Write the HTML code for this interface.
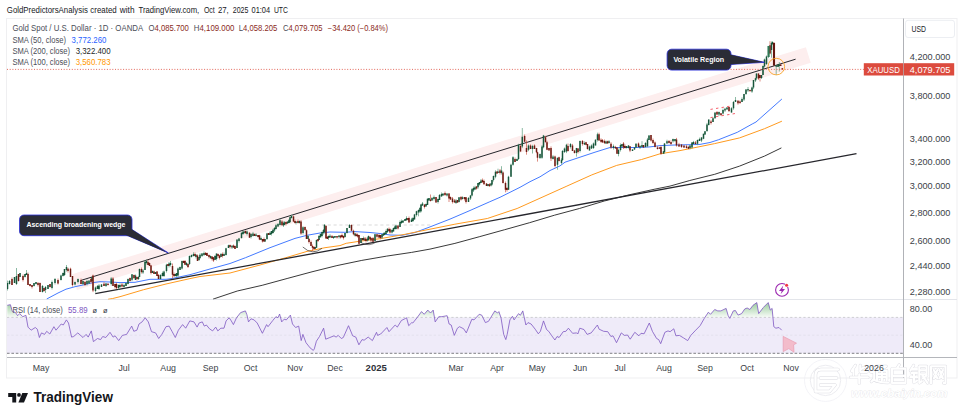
<!DOCTYPE html>
<html><head><meta charset="utf-8"><title>XAUUSD chart</title>
<style>
html,body{margin:0;padding:0;background:#fff;}
body{width:964px;height:418px;overflow:hidden;position:relative;font-family:"Liberation Sans",sans-serif;}
svg text{font-family:"Liberation Sans",sans-serif;}
</style></head><body>
<svg width="964" height="418" viewBox="0 0 964 418" style="position:absolute;left:0;top:0">
<defs>
<linearGradient id="gr" gradientUnits="userSpaceOnUse" x1="0" y1="300" x2="0" y2="317.4"><stop offset="0" stop-color="#43a047" stop-opacity="0.62"/><stop offset="1" stop-color="#43a047" stop-opacity="0.04"/></linearGradient>
<clipPath id="cp70"><rect x="7" y="299.5" width="896" height="17.9"/></clipPath>
<clipPath id="cpmain"><rect x="7" y="18.5" width="896" height="281"/></clipPath>
</defs>
<rect width="964" height="418" fill="#fff"/>
<rect x="6.5" y="18.5" width="950.5" height="359.5" fill="#fff" stroke="#efeff1" stroke-width="1"/>
<rect x="7" y="317.4" width="896" height="35.9" fill="#efebf9"/>
<path d="M7 299.5H957" stroke="#e3e5ea" stroke-width="1"/>
<path d="M7 357.5H957" stroke="#b4b6bb" stroke-width="1.2"/>
<path d="M903.5 18.5V378" stroke="#b0b2b7" stroke-width="1"/>
<g clip-path="url(#cpmain)">
<path d="M74.5 282.2L808.3 55" stroke="#fdeeee" stroke-width="16.4" fill="none"/>
<path d="M316 225H430.4" stroke="#cfcfcf" stroke-width="0.8" stroke-dasharray="3.1 2.75" fill="none"/>
<polyline points="46.7,299 58,293 66,289.2 75,286.7 85,284.6 93,282.6 100,281.7 110,282 120,282.6 135,282.3 150,279.3 166,279.3 172,278.5 190,274.7 210,269 230,263.5 245.5,257.7 270,247.7 295,238.4 307,235.3 320,233 330,232 345,232.3 355,231.6 370,232.5 380,233.5 390,235 402,235.3 415,232.5 430,226.9 450,219.1 470,210.5 489.2,202 500,197.3 510,192.3 520,187.3 530,181.7 540,176.8 550,170.5 560,165.9 565,162.2 580,157.2 595,152.2 610,147.5 625,147.5 640,147.5 650,146.9 660,145.6 675,145 690,144.7 700,144.4 710,142.5 718.7,139.7 737.3,132.3 752.2,124 756,122 781.9,99" fill="none" stroke="#2f6bff" stroke-width="0.9" stroke-linejoin="round"/>
<polyline points="108,299.3 112.7,298.5 120,296.7 143.6,289.7 166,284 190,278.6 200,276.5 230,273 260,265 287.2,257.3 307,251.4 325,247.7 340,245.6 346.2,243.3 360,241.2 380,238.7 392,236.6 405,234.3 420,231.2 430,229.2 454.9,224.2 487.3,218.5 517.1,208.5 542,197.3 566.9,186.1 591.8,174.9 616.7,165.4 641.6,159.5 660,153.8 680,150.6 700,146.6 714.7,143.6 739.6,137.9 764.5,128.7 781.9,121.2" fill="none" stroke="#ff9a1f" stroke-width="1" stroke-linejoin="round"/>
<polyline points="213,299.2 214.9,298.5 237.3,291 262.2,285.3 287.1,278.5 312,271.8 336.9,265.6 361.8,260.4 386.7,256.1 411.6,252.4 430,249.1 454.9,243.4 479.8,236.6 504.7,229.7 529.6,222.7 554.5,215.2 579.4,208.5 604.3,201 629.2,194.8 654.1,189.3 670,186.1 689.8,180.5 714.7,174.3 739.6,166.1 764.5,156.1 781.4,147.9" fill="none" stroke="#222" stroke-width="0.9" stroke-linejoin="round"/>
<path d="M81 280.4L795.6 59.2" stroke="#26262c" stroke-width="1.0" fill="none"/>
<path d="M95.3 293.6L856.5 153.7" stroke="#26262c" stroke-width="1.3" fill="none"/>
<path d="M302.8 247Q312.5 256 322 248.3" stroke="#333" stroke-width="0.7" fill="none"/>
<path d="M361 242.6Q369 247.5 377.5 241.2" stroke="#333" stroke-width="0.6" fill="none"/>
<path d="M710.5 109.4L731 106M710.5 117.6L736.5 113.3" stroke="#f23645" stroke-width="0.8" stroke-dasharray="2.4 3.2" fill="none"/>
<path d="M7.5 280.6V290.5M9.5 280V284.5M14.5 277V283M16.5 268V285M20 273V277M25 274V277.5M26.5 270V275M34 283V286.5M36 282V284.5M42.5 285V292.5M45.5 286V293M48 285V289M52 280.5V289.5M55 278V284.5M61 274.6V280.5M63 272.5V276.5M64.5 269V276M66.5 265V271.5M75 281.5V285.5M78 278.5V283.5M83 281V285M87 279.5V285.5M89 280.5V283.5M92 277V281M95.5 286.5V292.5M97.5 285V289M99 284.1V290M101.5 284V287M106 283V287M111.2 277.1V285.5M118.5 284.5V289.5M120 283.5V288M124 283.5V287.5M126 282.5V286M128 278.5V284.5M132 274.3V281.2M135.5 274.5V280M138.5 276V280M139.5 268.5V277M143 269V274M145 260.2V270M146.5 259.5V264.5M152.5 270.5V273M155.5 272V274M160.5 274.7V279.5M162.5 271.5V276.5M164 270.6V277M166.5 263.8V272.5M169 262V267.5M170.5 261V266.5M175 274V276.5M176.5 273V277M178 267.5V277M180 266.5V270M182 260.5V269.5M186.5 262V266M189.5 255.5V265M191.5 254.5V257.5M193.5 252.3V256.5M196 254.3V258.5M199 257V261M200 253.3V259M202 253V257M204 251.5V256M210.5 255.5V259M215 255V260M216.5 253.6V260.5M221 253V257M224 252.5V256M226 247.8V255.5M228.5 244.7V248M232 245.3V249M237 239.6V248M239 237.9V242.5M241.5 232.3V238.5M243 231.5V235M244 231V234M247 230.5V235.5M251 233V238.5M253 231.9V236.5M256 233.1V236.5M261 236.5V240M265 239V242M267 232.9V240M270 231.3V235M271.5 231V235.5M273 228.7V233.5M274.5 227V232M276 223.8V229.5M278 223V227M280 218.8V225.5M283.5 221.5V227M284.5 221.2V225M287.5 221.6V224M289 219V223M290 216.7V223M291.5 214.7V218.5M296 221.6V224.5M299.5 220.5V223.5M303 226.2V234.5M308 235V239M315 247V249M316.5 239.5V247.7M319 235V240M320.5 233.5V238M322 231.5V237.5M323.5 229V234.5M324.5 224.2V233.5M328.5 235.5V240M330 234.2V237.5M333.5 236.5V239M335 236V238M339 235.5V238.5M345 233V237.5M347 228V233.5M349.5 224V228M355 233V236.5M361 238V243M363.5 236.5V240.5M367.5 237V241.5M368.5 235.5V240.5M375 233.8V241M382 234.3V239M383.5 232.5V236M384.5 232V235M386 229.5V234.5M387.5 228.2V233M392 229V233.5M393.5 227.5V231.5M395 225.5V229.5M396 224.6V229.5M400 220.4V227M401.5 219.5V224M403 220.1V223M405 219V221M406.5 216.3V221M411.5 217.9V222M413 217V222M414.5 213.9V219.4M416.5 210.8V216.5M418.5 209.4V216.3M420 207V213M421 203.9V212.3M422.5 202V206M426 203.5V206.5M427.5 198.3V205M429 198V200.5M432 197V200.5M434 195.5V200.5M438 198.5V203.5M439.5 194V200M441.5 192.5V196.5M443 193.6V195.5M447 193.4V196.5M456 199V204M459 197.3V202.5M462.5 196.3V199.5M468.5 197V202M470.5 194.9V200M472 188.2V196.4M473.5 186.5V192M475 185.8V189.5M478 183V188.8M479.5 182V185.5M481 179V183M488 184V186.5M491 183V186.5M492 179.9V185.5M493.5 175.5V181.5M495.5 170.3V178.3M498 168.7V173M501.5 166.2V174.5M508.5 175.8V189.8M511 163.7V176.8M513 156.2V165.7M517 158.5V161M518.5 143.8V160M522.3 128V148.1M528.5 144.4V151.2M532.5 144.8V153.5M540 153.5V159M542 145.1V158.8M543.5 134.9V148.3M553 155.1V159.5M557.5 157.8V169.7M561.5 158.2V164.5M562.5 150V161M564.5 147.5V153M566.5 143.8V153.1M570.5 143.1V148.5M576.5 147.9V156.6M580 140.5V152.5M584.5 141.4V145M589.5 145.6V150.4M591.5 144.4V149M593.5 142.5V149M595.5 139.3V145.4M597.5 132.7V141.5M606 140.5V144M609 140.2V143.5M613.5 144.5V149.5M618.5 148.5V156.3M620.5 143.5V151.5M622 144V146.5M626.5 146V148.5M628.5 145.1V148.5M632.5 149.4V151M634.5 147.5V149.9M636 143.2V147.5M640 145V149M642 141.2V147M645.5 142.1V147.4M647.5 137.9V147.2M649 135.1V140M663.5 151.2V153.8M664.5 143V153.4M667 139.7V143.5M673 138.6V142.7M675 139V142M690 145.1V149.5M692 142V148.5M693.5 140.9V144M697.5 139.5V145.2M699.5 137.6V141M701.5 137V142.1M703.5 133.7V139.2M705 131.2V134.9M707 122.9V131.2M708.7 119.5V125.5M713 117.2V122M715 112.6V118.7M719 111.5V116M723 108.6V114.5M725 107.8V112M727 107.1V109.5M731.5 107.2V112.6M733.5 101V109.7M735.5 97V102M742 97.4V102M744 93.9V101M746 89V94.9M748 87V92M752 86.6V92.9M753.5 80.1V89.1M755.5 77.7V82M756.5 73.4V79.7M761.5 75V79M763 65.4V75M764.5 58.6V67.5M766.5 55.5V65M768.5 45.9V58.1M771.5 41.5V57.7M772.5 41.2V45M776.2 65V75M778 64.6V67M779.3 62V71.5" stroke="#5a9c7d" stroke-width="0.7" fill="none"/><path d="M12 277.5V285M18.5 274V281.5M23 274.5V281.5M28 272.5V285M30 284V286.5M32 285V288.5M38 282V286.5M40 282.5V292M44 288V291.5M50 284V287.5M58 278.5V284.5M68 267.7V272.5M70.5 267.7V277M72.5 276V286.5M81 278.5V284M85 281V286M91 278V283.5M93 274.6V292.1M104 282.2V286M108 283.2V285.5M113 277.1V286M115 283.5V288.5M116.5 282.5V289M122 283V287.5M130 277.5V281.5M134 274.5V279M137 276.5V280.5M141.5 267.5V273.5M148 259.8V265M149.5 262.5V266M151 264.9V274.4M154 270.6V274M157 271.1V276M158.5 274V279M168 264V266M172.5 263.5V278.5M174 272.5V277M183.5 260.5V263M185 260V264.8M188 263.5V268M195 252.5V256.5M197.5 254.4V261M205.5 252V255M207 252.5V256M209 254.5V258.5M212 256V260.5M213.5 257.3V261.9M218 253.5V257.5M219.5 254.9V259.5M222.5 252.5V257.5M230 244.5V248.5M233.5 244.5V248M235 245.5V249M245.5 230.5V234M249.5 232.3V237.8M254.5 233.5V236M258 235V237.5M259.5 234.8V240.1M262.5 239V242.5M264 237.5V241.5M268.5 233V235M282 220.1V225.3M286 221.5V225.5M293.5 215.6V222.1M295 219.5V223.5M298 219.5V223.5M301 220.1V234.9M305 226.5V231M306.5 229.3V239M309 238V243.5M311 240.5V246M312.5 244.5V251.4M314 246V250M318 239V242M326 225V238.6M327.5 236V239M332 235V238M337 236V238.5M340.5 235.5V238.5M342 233.5V238M343.5 235.5V239.5M351.5 224.5V231.2M353.5 229.7V235.3M356 232.8V236.5M357.5 233.5V237.5M359 235V244.7M362.5 238V240.5M365 237V240.5M366 237.5V242.5M370 236V239.5M371 237.5V242M373 237V241.8M377 234.3V237.8M379 233.5V238M380.5 235V239.3M389 227.5V231M390 228.3V233.5M398 225.6V229.5M408 218V220.5M409 216.5V222.5M424.5 204.4V208.5M430.5 194.5V201.5M436 197V202.6M445 191.5V196M449 193.1V202M450.5 196.5V200M452.5 197V203.5M454.5 199V202.5M457.5 200V203M461 196V200.5M464.5 197V200.5M466 197.3V203.5M476.5 186V189.5M482.5 178.5V183M484 179.5V184.7M486.5 183.1V185.9M489.5 183.2V187M497 171.5V174M500 169V174.5M503 171.4V183.5M505.5 181.5V192.3M507 187V191.5M515 157.5V162M520.5 145V151.6M524.6 134.5V141.7M526.5 140.4V154.7M530.5 144.4V149M534.5 144.4V149M536.5 147.9V153.2M537.5 151.7V161.6M545.5 135.8V142.3M547 140.8V150.2M549 147.9V150.4M551 146.4V161M555 155.6V167.4M559 156.7V161.5M568 143.5V151.5M572.5 143.9V151M574.5 149.9V153.5M578 148V153.5M582.5 140V145.6M586 141.8V145.3M587.5 144.1V149.6M599 132.7V140.9M601 138.3V142.7M602.5 139V142.5M604.5 139.5V144M607.5 140.7V143.5M611 142.2V149M615.5 145.9V148.5M617 147V153.8M623.5 142V149M625 144.5V148.5M630 146.2V152.1M638.5 142.5V147.4M643.5 145V147.5M651 135V141.6M653 138.5V144.1M655 141.5V147.4M657.5 146V149.5M659.5 147V148.7M661 145.4V154.8M669 140V143.5M671 140.4V145M676.5 137.9V146.6M679 142.9V147M681.5 144.4V147.9M684 145.6V148M686.5 144.7V148.5M688.5 145.9V149.2M695.5 141V144.5M711 119.9V124.5M717 111V115M721 113.2V116M729 107V111.3M738 100.2V104.7M740 100.4V104M750 89.5V92M758.5 73.4V79.9M760 75V81.5M770 41.2V54.4M774 42V65.2M780.7 64.1V65.9M782.3 68V70" stroke="#cf5a4a" stroke-width="0.7" fill="none"/><path d="M7.5 283V289M9.5 281V284M14.5 277V283M16.5 276V284M20 273V277M25 274V277M26.5 273V275M34 283V286M36 282V284M42.5 286V292M45.5 287V290M48 285V289M52 282V288M55 279V283M61 275.6V280M63 273V276M64.5 269V275M66.5 267V270M75 282V284.5M78 279V282M83 281V284M87 281V284M89 280.5V283.5M92 277V281M95.5 287.5V291M97.5 286V289M99 285.6V289M101.5 284.5V287M106 283.5V286M111.2 278.6V284M118.5 285V288M120 285V287M124 285V287M126 283V286M128 279V284M132 274.3V279.7M135.5 275.5V280M138.5 277V279M139.5 269V277M143 270.5V272.5M145 261.7V270M146.5 261V263M152.5 271V273M155.5 272V274M160.5 274.7V279M162.5 273V276M164 271.6V276M166.5 264.8V271M169 263.5V266M170.5 263V265M175 274V276M176.5 273V276M178 268.5V275.5M180 267V270M182 261V268.5M186.5 263V265M189.5 256V264M191.5 255V257M193.5 254V256M196 254.8V257M199 257V260M200 254.8V258M202 253.5V256M204 253V255M210.5 256V258M215 256V260M216.5 253.6V259M221 254V257M224 254V256M226 248.3V255M228.5 245.2V248M232 245.8V247.5M237 239.6V248M239 238.4V241M241.5 232.8V238M243 231.5V234M244 231.5V233M247 231.5V234M251 234V237M253 233.4V236M256 234.6V236M261 238V240M265 239V241.5M267 233.4V239M270 232.8V235M271.5 231V234M273 229.7V233M274.5 228V230.5M276 225.3V229M278 224V226.5M280 220.3V225M283.5 223V225.5M284.5 222.2V225M287.5 221.6V223.5M289 220V223M290 217.2V222M291.5 216V218M296 221.6V223M299.5 221V223M303 227.2V233M308 236V239M315 247V249M316.5 240V247.7M319 236V240M320.5 234V237M322 232V236M323.5 230V233M324.5 224.7V232M328.5 236V238M330 235.7V237.5M333.5 236.5V238M335 236V237.5M339 235.5V237M345 233V237M347 228V233M349.5 225V228M355 233.5V235.5M361 238V243M363.5 238V240M367.5 238.5V240.5M368.5 236V240M375 234.3V241M382 234.3V237.5M383.5 233.5V235.5M384.5 233V235M386 231V234M387.5 228.7V232M392 230V232.5M393.5 228V231.5M395 226.5V229M396 225.6V229M400 221.9V227M401.5 221V223M403 220.6V222.5M405 219V221M406.5 218V220M411.5 219.4V222M413 218V221M414.5 214.4V219.4M416.5 211.3V215M418.5 210V212.5M420 208V211.5M421 204.4V211.3M422.5 203.5V205.5M426 204V206.5M427.5 198.8V205M429 198V200.5M432 198V200.5M434 197V199M438 199V202M439.5 195V200M441.5 194V196.5M443 193.6V195.5M447 193.4V195.5M456 200.5V203M459 197.3V202M462.5 197.3V199M468.5 198V202M470.5 195.4V198.5M472 189.2V195.4M473.5 188V190.5M475 187.3V189.5M478 183V187.3M479.5 182V184.5M481 180.5V183M488 184V186M491 183.5V185.5M492 179.9V184.5M493.5 176V180M495.5 171.8V176.8M498 171.5V173M501.5 170.5V173M508.5 176.8V189.8M511 164.7V176.8M513 157.2V164.7M517 159V161M518.5 144.8V159M522.3 136.7V146.6M528.5 145.4V149.7M532.5 146V149M540 154V158M542 146.6V157.8M543.5 135.4V147.3M553 156.6V159M557.5 157.8V164.7M561.5 159.7V163M562.5 151V160M564.5 148.5V152M566.5 144.8V151.6M570.5 144.1V147M576.5 147.9V152.9M580 141V151M584.5 142.9V144.5M589.5 146.6V150.4M591.5 145.4V148.5M593.5 143.5V148M595.5 139.8V145.4M597.5 134.2V140M606 141.5V143.5M609 141.2V143M613.5 146V148M618.5 150V154M620.5 145V150M622 144V146.5M626.5 146V148M628.5 145.6V148M632.5 149.4V151M634.5 147.5V149.4M636 143.7V147.5M640 146V147.5M642 145V147M645.5 143.1V146.9M647.5 139.4V146.2M649 135.6V140M663.5 151.2V153.8M664.5 143.5V151.9M667 141.2V143.5M673 139.1V141.2M675 139V141M690 145.6V148M692 142.5V147.5M693.5 141.9V144M697.5 140V143.7M699.5 139.1V141M701.5 137.5V140.6M703.5 133.7V138.7M705 131.2V134.4M707 124.4V131.2M708.7 119.5V125M713 118.2V122M715 112.6V118.2M719 112V114.5M723 110.1V113.5M725 108.8V110.5M727 107.6V109.5M731.5 108.2V112.6M733.5 102V108.2M735.5 100V102M742 98.9V102M744 93.9V99.5M746 89.5V93.9M748 89V90.5M752 87.6V91.4M753.5 80.1V87.6M755.5 78.2V80.5M756.5 73.4V78.2M761.5 75V78M763 65.9V75M764.5 59.6V66.5M766.5 56.5V64M768.5 45.9V57.1M771.5 43V50M772.5 42V44M776.2 65.2V66.7M778 64.6V67M779.3 64.5V66" stroke="#17553a" stroke-width="1.5" fill="none"/><path d="M12 279V285M18.5 274V281M23 276V280M28 274V285M30 284V286M32 285V287M38 283V285M40 283V292M44 288V291M50 284V287M58 280V283.5M68 268.7V271M70.5 268.7V277M72.5 276V285M81 280V284M85 282V285M91 279V282M93 275.6V290.6M104 283.7V286M108 283.7V285M113 278.6V286M115 284V287M116.5 284V288M122 284.5V286.5M130 278V281M134 275V278M137 277V279M141.5 269V272M148 262V265M149.5 263V266M151 265.4V272.9M154 271.6V274M157 271.6V276M158.5 275V279M168 264V266M172.5 266V274.7M174 274V276M183.5 261V263M185 261V264.8M188 264V267M195 254V256M197.5 255.4V261M205.5 253V255M207 253V256M209 255V257M212 256.5V259M213.5 257.3V260.4M218 254V256M219.5 255.4V258M222.5 254V256M230 245V247M233.5 245.5V247.5M235 246V249M245.5 231V233M249.5 232.8V237.8M254.5 234V236M258 235V237M259.5 235.3V239.6M262.5 239V241.5M264 239V241.5M268.5 233V235M282 221.6V225.3M286 222V224M293.5 216.6V221.6M295 221V223M298 221V223M301 221.6V233.4M305 227V230M306.5 230.3V239M309 239V242M311 242V246M312.5 246V247.7M314 247V249M318 239V241M326 226V238.6M327.5 237V239M332 236V238M337 236V237.5M340.5 235.5V237.5M342 235V237M343.5 236V238M351.5 225V230.7M353.5 230.7V234.3M356 234.3V236M357.5 234.5V236.5M359 235V243.7M362.5 238V240M365 238.5V240.5M366 239V241M370 237V239M371 238V240.5M373 238V241.8M377 234.3V236.8M379 235V237.5M380.5 235V238M389 229V231M390 229.3V232.5M398 225.6V228.5M408 218V220M409 218V222.5M424.5 204.4V207M430.5 199.5V201M436 197V202.6M445 193V195M449 193.6V198.5M450.5 197V199.5M452.5 198.5V202M454.5 200.5V202.5M457.5 200V202.5M461 197V199.5M464.5 197V199M466 197.3V202M476.5 186.5V188.5M482.5 180V182M484 181V184.2M486.5 183.6V185.9M489.5 184.2V186M497 171.5V173.5M500 170.5V173M503 172.4V183M505.5 183V189.8M507 188V190M515 159V162M520.5 146V151.6M524.6 136V141.7M526.5 148V152M530.5 145.4V149M534.5 145.4V149M536.5 147.9V152.2M537.5 152.2V157.8M545.5 137.3V142.3M547 142.3V149.7M549 147.9V150.4M551 147.9V158.5M555 156.6V165.9M559 157.2V161M568 146V151M572.5 145.4V151M574.5 150.4V153M578 148.5V152M582.5 141V144.1M586 142.3V144.8M587.5 144.1V149.1M599 134.2V140.4M601 139.8V141.7M602.5 140V142.5M604.5 141V143M607.5 141.2V143.5M611 143.7V147.5M615.5 146.9V148.5M617 147.5V153.8M623.5 143.5V147.5M625 146V148M630 146.2V150.6M638.5 143.5V146.9M643.5 145V147.5M651 135V140.6M653 140V143.1M655 142.5V146.9M657.5 147.5V149M659.5 147.5V148.7M661 146.9V153.8M669 141V143M671 141.9V144M676.5 139.4V145.6M679 144.4V146.5M681.5 144.4V146.9M684 145.6V147.5M686.5 146.2V148M688.5 146.9V148.7M695.5 142.5V144M711 121.4V123M717 112V114.5M721 113.2V115M729 107V111.3M738 100.7V103.2M740 101.4V103M750 90V91M758.5 73.4V78.4M760 75V78M770 45.2V53.4M774 43V65.2M780.7 64.6V65.9M782.3 68.2V69.6" stroke="#6d1a12" stroke-width="1.5" fill="none"/>
<path d="M774 43V65.4" stroke="#651710" stroke-width="2.1" fill="none"/><path d="M768.6 46V57" stroke="#2f7a56" stroke-width="1.9" fill="none"/>
</g>
<path d="M7 69.4H864" stroke="#e0584a" stroke-width="0.9" stroke-dasharray="1 1.7" fill="none"/>
<circle cx="776.3" cy="66.6" r="8.3" fill="none" stroke="#f7a52b" stroke-width="0.9"/>
<g><path d="M125.5 234.8L168.3 252.9L131.2 229Z" fill="#2a2c36" stroke="#2a2fd8" stroke-width="0.8" stroke-linejoin="round"/><rect x="19.5" y="215" width="112.5" height="20.7" rx="4.5" fill="#2a2c36" stroke="#2a2fd8" stroke-width="0.8"/><path d="M125.5 234.8L166.8 252.6L131.2 229Z" fill="#2a2c36"/><text x="26.4" y="227.2" font-size="7.6" font-weight="bold" fill="#fff" textLength="99" lengthAdjust="spacingAndGlyphs">Ascending broadening wedge</text></g>
<g><path d="M729.5 54.5L764.4 62.3L729.5 64.6Z" fill="#2a2c36" stroke="#2a2fd8" stroke-width="0.8" stroke-linejoin="round"/><rect x="667.1" y="49.2" width="63.9" height="20.9" rx="4.5" fill="#2a2c36" stroke="#2a2fd8" stroke-width="0.8"/><path d="M729.5 54.5L762.9 62L729.5 64.6Z" fill="#2a2c36"/><text x="673.4" y="62.1" font-size="7.6" font-weight="bold" fill="#fff" textLength="50.8" lengthAdjust="spacingAndGlyphs">Volatile Region</text></g>
<path d="M7 317.4H903" stroke="#c4c4c8" stroke-width="0.8" stroke-dasharray="2.2 2.2" fill="none"/>
<path d="M7 335.2H903" stroke="#e0dde8" stroke-width="0.7" stroke-dasharray="2.2 2.2" fill="none"/>
<path d="M7 353.3H903" stroke="#4a4c52" stroke-width="0.7" stroke-dasharray="2.6 1.8" fill="none"/>
<polygon points="7.3,317.4 7.3,305.3 10.4,304.7 12.4,311.6 15.6,312.6 17.6,315.7 19.7,313.6 22.8,316.7 25.9,315.3 28,327.1 31.1,330.2 35.3,327.5 37.3,329.2 39.4,337.5 41.5,332.9 44.6,334.4 46.7,331.3 49.8,334 53.9,326.7 56,330.2 61.2,324 63.3,325 66.4,319.9 68.5,323 71.6,337.1 73.7,336.5 77.8,332.9 83,337.5 86.1,334.4 88.2,337.1 91.3,330.9 93.4,341.6 97.5,338.5 100.6,339.6 102.7,336.5 105.8,337.5 110,332.3 113.1,337.1 115.1,335.8 118.7,340.6 122.4,335.4 126.6,334.4 131.7,326.1 133.8,331.3 136.9,330.2 139,324 142.1,321.9 145.2,317.8 148.3,321.9 151.5,331.7 155.6,332.9 158.7,338.5 161.8,334.4 166,326.7 169.1,326.1 172.2,331.7 175.3,337.5 178.4,330.2 182.6,324.6 185.7,328.2 189.8,320.9 194,321.9 197.1,327.1 199.1,323 202.3,321.9 204.3,326.1 206.4,325 209.5,328.8 212.6,330.9 215.7,327.1 217.8,330.9 220.9,328.2 224,328.2 226.1,320.9 229.2,317.8 231.3,320.9 233.4,324.6 236.5,317.8 240.6,312.6 245.4,310.9 246.9,314.7 248.5,321.9 251,318.8 254.1,319.9 257.2,323 262.4,333.3 266.6,324.6 268,326.7 272.8,320.5 275.9,316.7 278,317.8 279.6,314 281.7,321.9 284.2,319.2 286.3,319.9 290.4,315.1 292.5,324 295.6,327.5 298.7,326.1 301.2,340.6 302.9,334.4 306,342.7 310.1,347.9 313.3,350.4 314.3,348.9 316.4,341.2 319.5,336.5 323.6,328.2 325.7,339.2 329.9,337.5 334,335.8 336.1,337.1 338.2,335.4 341.3,338.5 343.3,337.5 348.5,325.7 352.7,335.8 355.8,337.1 358.9,344.8 362,339.6 364.1,340.2 368.2,337.1 372.4,340.6 376.5,332.3 377.6,335.4 380.7,334 386.9,327.5 389,331.7 395.2,325 397.3,327.1 401.4,320.5 405.6,318.4 406.6,317.8 408.7,325.7 411.8,322.6 412.8,323 417,317.8 421.5,311.6 424.2,314.3 427.8,310.1 430.5,313 433.2,310.1 435.2,321.9 438.8,316.7 441.9,316.7 447.1,315.7 449.1,324 451.2,325 454.3,335.4 457.4,328.2 459.5,326.7 463.7,328.8 466.3,332.9 471.9,319.2 474,319.9 479.2,314.3 481.7,315.1 485.4,322.6 488.5,321.3 494.8,310.9 497.5,313 498.9,311.6 501,317.8 503.7,334.4 505.8,339.6 507.2,334.4 509.9,319.9 512.4,316.3 514.1,319.9 518.6,313.6 520.3,315.3 522.8,310.9 525.9,325 528,322.6 531.1,324 535.2,329.2 538.3,333.8 540.4,331.3 543.5,320.9 546.6,329.6 548.7,331.3 551.8,335.8 554.9,340 557,336.5 559.1,337.5 563.2,331.7 565.9,331.3 568.4,328.2 572.6,333.3 576.7,332.9 577.8,334 579.8,328.2 584,329.6 587.1,334.4 591.2,332.9 597.4,325 599.1,329.2 603.7,331.3 607.8,331.7 610.9,336.5 613,335.8 616.5,342.7 621.3,332.9 624.4,335.4 627.5,335 630.2,339.2 634.8,332.3 638.9,335.8 641,333.3 644.1,333.8 649.3,323 652.4,331.3 656.6,338.5 658.7,339.6 660.7,343.7 664.9,332.3 668,330.9 670.1,331.7 673.8,328.8 675.9,335.8 679.4,335.4 683.5,337.9 687.7,340.6 690.8,335.4 695,330.9 700.1,325.7 704.3,318.4 708.4,312.2 710.5,314.3 714.7,309.5 717.8,310.9 720.9,310.9 726.1,308.4 728.2,315.7 729.8,318.4 733.3,310.9 735.4,310.5 738.1,315.1 741.6,313.6 744.8,308.9 747.2,308 749.9,309.5 753,305.3 756.8,302.6 758.7,313.6 763.4,307.4 768.2,302.6 770.3,310.1 772.1,308.4 773.8,326.7 775.9,328.2 779,327.5 781.7,330.2 781.7,317.4" fill="url(#gr)" clip-path="url(#cp70)"/>
<polyline points="7.3,305.3 10.4,304.7 12.4,311.6 15.6,312.6 17.6,315.7 19.7,313.6 22.8,316.7 25.9,315.3 28,327.1 31.1,330.2 35.3,327.5 37.3,329.2 39.4,337.5 41.5,332.9 44.6,334.4 46.7,331.3 49.8,334 53.9,326.7 56,330.2 61.2,324 63.3,325 66.4,319.9 68.5,323 71.6,337.1 73.7,336.5 77.8,332.9 83,337.5 86.1,334.4 88.2,337.1 91.3,330.9 93.4,341.6 97.5,338.5 100.6,339.6 102.7,336.5 105.8,337.5 110,332.3 113.1,337.1 115.1,335.8 118.7,340.6 122.4,335.4 126.6,334.4 131.7,326.1 133.8,331.3 136.9,330.2 139,324 142.1,321.9 145.2,317.8 148.3,321.9 151.5,331.7 155.6,332.9 158.7,338.5 161.8,334.4 166,326.7 169.1,326.1 172.2,331.7 175.3,337.5 178.4,330.2 182.6,324.6 185.7,328.2 189.8,320.9 194,321.9 197.1,327.1 199.1,323 202.3,321.9 204.3,326.1 206.4,325 209.5,328.8 212.6,330.9 215.7,327.1 217.8,330.9 220.9,328.2 224,328.2 226.1,320.9 229.2,317.8 231.3,320.9 233.4,324.6 236.5,317.8 240.6,312.6 245.4,310.9 246.9,314.7 248.5,321.9 251,318.8 254.1,319.9 257.2,323 262.4,333.3 266.6,324.6 268,326.7 272.8,320.5 275.9,316.7 278,317.8 279.6,314 281.7,321.9 284.2,319.2 286.3,319.9 290.4,315.1 292.5,324 295.6,327.5 298.7,326.1 301.2,340.6 302.9,334.4 306,342.7 310.1,347.9 313.3,350.4 314.3,348.9 316.4,341.2 319.5,336.5 323.6,328.2 325.7,339.2 329.9,337.5 334,335.8 336.1,337.1 338.2,335.4 341.3,338.5 343.3,337.5 348.5,325.7 352.7,335.8 355.8,337.1 358.9,344.8 362,339.6 364.1,340.2 368.2,337.1 372.4,340.6 376.5,332.3 377.6,335.4 380.7,334 386.9,327.5 389,331.7 395.2,325 397.3,327.1 401.4,320.5 405.6,318.4 406.6,317.8 408.7,325.7 411.8,322.6 412.8,323 417,317.8 421.5,311.6 424.2,314.3 427.8,310.1 430.5,313 433.2,310.1 435.2,321.9 438.8,316.7 441.9,316.7 447.1,315.7 449.1,324 451.2,325 454.3,335.4 457.4,328.2 459.5,326.7 463.7,328.8 466.3,332.9 471.9,319.2 474,319.9 479.2,314.3 481.7,315.1 485.4,322.6 488.5,321.3 494.8,310.9 497.5,313 498.9,311.6 501,317.8 503.7,334.4 505.8,339.6 507.2,334.4 509.9,319.9 512.4,316.3 514.1,319.9 518.6,313.6 520.3,315.3 522.8,310.9 525.9,325 528,322.6 531.1,324 535.2,329.2 538.3,333.8 540.4,331.3 543.5,320.9 546.6,329.6 548.7,331.3 551.8,335.8 554.9,340 557,336.5 559.1,337.5 563.2,331.7 565.9,331.3 568.4,328.2 572.6,333.3 576.7,332.9 577.8,334 579.8,328.2 584,329.6 587.1,334.4 591.2,332.9 597.4,325 599.1,329.2 603.7,331.3 607.8,331.7 610.9,336.5 613,335.8 616.5,342.7 621.3,332.9 624.4,335.4 627.5,335 630.2,339.2 634.8,332.3 638.9,335.8 641,333.3 644.1,333.8 649.3,323 652.4,331.3 656.6,338.5 658.7,339.6 660.7,343.7 664.9,332.3 668,330.9 670.1,331.7 673.8,328.8 675.9,335.8 679.4,335.4 683.5,337.9 687.7,340.6 690.8,335.4 695,330.9 700.1,325.7 704.3,318.4 708.4,312.2 710.5,314.3 714.7,309.5 717.8,310.9 720.9,310.9 726.1,308.4 728.2,315.7 729.8,318.4 733.3,310.9 735.4,310.5 738.1,315.1 741.6,313.6 744.8,308.9 747.2,308 749.9,309.5 753,305.3 756.8,302.6 758.7,313.6 763.4,307.4 768.2,302.6 770.3,310.1 772.1,308.4 773.8,326.7 775.9,328.2 779,327.5 781.7,330.2" fill="none" stroke="#7e57c2" stroke-width="0.8" stroke-linejoin="round"/>
<path d="M783.2 336.4L796.5 343.2L793.6 344.8L794 352.3L788.8 348.6L783.2 351.6Z" fill="#f3bccb" stroke="#ea9bb0" stroke-width="0.7" stroke-linejoin="round"/>
<circle cx="782" cy="289.9" r="6.4" fill="#fff" stroke="#9c27b0" stroke-width="1.1"/>
<path d="M783.3 285.6L779 290.9H781.7L780.6 294.3L785 288.9H782.3Z" fill="#9c27b0"/>
<circle cx="786.6" cy="285.3" r="2" fill="#fff"/><circle cx="786.6" cy="285.3" r="1.55" fill="#f23645"/>
<circle cx="825.5" cy="380.4" r="21" fill="none" stroke="#eeeef4" stroke-width="0.7"/><circle cx="825.5" cy="380.4" r="15.2" fill="none" stroke="#e4e4ea" stroke-width="0.7"/><g  fill="none" stroke-linecap="round" stroke-linejoin="round"><path d="M838 369.5H821Q815.5 369.5 815.5 375V391.5H829.5L835 385H820.5M820.5 378H836.5" stroke="#dcdce2" stroke-width="3.4"/><path d="M838 369.5H821Q815.5 369.5 815.5 375V391.5H829.5L835 385H820.5M820.5 378H836.5" stroke="#fff" stroke-width="2.4"/></g><g transform="translate(849.60 364.30) scale(0.965)" fill="none" stroke-linecap="round" stroke-linejoin="round"><path d="M6 1L2 7M4 5V11M11 1V8H18V6M17 2L11 5.5M1 13.5H19M10 10.5V20" stroke="#dcdce2" stroke-width="3.1"/><path d="M6 1L2 7M4 5V11M11 1V8H18V6M17 2L11 5.5M1 13.5H19M10 10.5V20" stroke="#fff" stroke-width="2.2"/></g><g transform="translate(869.35 364.30) scale(0.965)" fill="none" stroke-linecap="round" stroke-linejoin="round"><path d="M3 2L4.5 3.5M1.5 8H5V15L2 18M4.5 16Q9 19 19.5 19M8 2H17.5L13 5M8 6.5V16.5M8 6.5H18V16.5M8 10H18M8 13.3H18M13 6.5V16.5" stroke="#dcdce2" stroke-width="3.1"/><path d="M3 2L4.5 3.5M1.5 8H5V15L2 18M4.5 16Q9 19 19.5 19M8 2H17.5L13 5M8 6.5V16.5M8 6.5H18V16.5M8 10H18M8 13.3H18M13 6.5V16.5" stroke="#fff" stroke-width="2.2"/></g><g transform="translate(889.10 364.30) scale(0.965)" fill="none" stroke-linecap="round" stroke-linejoin="round"><path d="M10.5 0.5L8 4.5M3 4.5H17V19.5H3ZM3 12H17" stroke="#dcdce2" stroke-width="3.1"/><path d="M10.5 0.5L8 4.5M3 4.5H17V19.5H3ZM3 12H17" stroke="#fff" stroke-width="2.2"/></g><g transform="translate(908.85 364.30) scale(0.965)" fill="none" stroke-linecap="round" stroke-linejoin="round"><path d="M5 1L1.5 6.5M3.5 5H8.5M2.5 9H8.5M5.3 9V19L8.5 16.8M1.5 13.3H8.5M10.8 2V19.5L13.5 17.5M10.8 2H18.3V10.3H10.8M10.8 6.2H18.3M18.5 11.5L14.5 14.5M13.5 10.5L19.5 19.5" stroke="#dcdce2" stroke-width="3.1"/><path d="M5 1L1.5 6.5M3.5 5H8.5M2.5 9H8.5M5.3 9V19L8.5 16.8M1.5 13.3H8.5M10.8 2V19.5L13.5 17.5M10.8 2H18.3V10.3H10.8M10.8 6.2H18.3M18.5 11.5L14.5 14.5M13.5 10.5L19.5 19.5" stroke="#fff" stroke-width="2.2"/></g><g transform="translate(928.60 364.30) scale(0.965)" fill="none" stroke-linecap="round" stroke-linejoin="round"><path d="M2.5 20V2H17.5V19Q17.5 20 15.5 19.5M5.5 6L9 14.5M9 6L5.5 14.5M11.3 6L14.8 14.5M14.8 6L11.3 14.5" stroke="#dcdce2" stroke-width="3.1"/><path d="M2.5 20V2H17.5V19Q17.5 20 15.5 19.5M5.5 6L9 14.5M9 6L5.5 14.5M11.3 6L14.8 14.5M14.8 6L11.3 14.5" stroke="#fff" stroke-width="2.2"/></g><text x="851" y="397" font-size="11.6" font-weight="bold" font-style="italic" fill="#fff" stroke="#dcdce2" stroke-width="0.55" textLength="96.5" lengthAdjust="spacingAndGlyphs" paint-order="stroke">www.cbaiyin.com</text>
<text x="6.8" y="12.6" font-size="8.2" fill="#16181d" textLength="81" lengthAdjust="spacingAndGlyphs">GoldPredictorsAnalysis</text>
<text x="90.3" y="12.6" font-size="8.2" fill="#16181d" textLength="26.4" lengthAdjust="spacingAndGlyphs">created</text>
<text x="119.8" y="12.6" font-size="8.2" fill="#16181d" textLength="14.7" lengthAdjust="spacingAndGlyphs">with</text>
<text x="138.5" y="12.6" font-size="8.2" fill="#16181d" textLength="60.7" lengthAdjust="spacingAndGlyphs">TradingView.com,</text>
<text x="203.9" y="12.6" font-size="8.2" fill="#16181d" textLength="10.9" lengthAdjust="spacingAndGlyphs">Oct</text>
<text x="217.9" y="12.6" font-size="8.2" fill="#16181d" textLength="10.9" lengthAdjust="spacingAndGlyphs">27,</text>
<text x="232.8" y="12.6" font-size="8.2" fill="#16181d" textLength="15.6" lengthAdjust="spacingAndGlyphs">2025</text>
<text x="251.5" y="12.6" font-size="8.2" fill="#16181d" textLength="18.6" lengthAdjust="spacingAndGlyphs">01:04</text>
<text x="273.9" y="12.6" font-size="8.2" fill="#16181d" textLength="14" lengthAdjust="spacingAndGlyphs">UTC</text>
<text x="12.4" y="31.4" font-size="8.3" fill="#4a4d57" textLength="130.8" lengthAdjust="spacingAndGlyphs">Gold Spot / U.S. Dollar · 1D · OANDA</text>
<text x="148.5" y="31.4" font-size="8.3" fill="#4a4d57" textLength="40.3" lengthAdjust="spacingAndGlyphs">O<tspan fill="#8a2a22">4,085.700</tspan></text>
<text x="193.8" y="31.4" font-size="8.3" fill="#4a4d57" textLength="40.6" lengthAdjust="spacingAndGlyphs">H<tspan fill="#8a2a22">4,109.000</tspan></text>
<text x="238.8" y="31.4" font-size="8.3" fill="#4a4d57" textLength="38.4" lengthAdjust="spacingAndGlyphs">L<tspan fill="#8a2a22">4,058.205</tspan></text>
<text x="283" y="31.4" font-size="8.3" fill="#4a4d57" textLength="39.4" lengthAdjust="spacingAndGlyphs">C<tspan fill="#8a2a22">4,079.705</tspan></text>
<text x="327.8" y="31.4" font-size="8.3" fill="#8a2a22" textLength="60.2" lengthAdjust="spacingAndGlyphs">−34.420 (−0.84%)</text>
<text x="12.4" y="42.7" font-size="8.3" fill="#4a4d57" textLength="53.6" lengthAdjust="spacingAndGlyphs">SMA (50, close)</text>
<text x="71.6" y="42.7" font-size="8.3" fill="#2962ff" textLength="34.8" lengthAdjust="spacingAndGlyphs">3,772.260</text>
<text x="12.4" y="53.7" font-size="8.3" fill="#4a4d57" textLength="57.7" lengthAdjust="spacingAndGlyphs">SMA (200, close)</text>
<text x="75.7" y="53.7" font-size="8.3" fill="#1d1f26" textLength="34.9" lengthAdjust="spacingAndGlyphs">3,322.400</text>
<text x="12.4" y="64.8" font-size="8.3" fill="#4a4d57" textLength="57.7" lengthAdjust="spacingAndGlyphs">SMA (100, close)</text>
<text x="75.7" y="64.8" font-size="8.3" fill="#ff9800" textLength="34.9" lengthAdjust="spacingAndGlyphs">3,560.783</text>
<text x="12.4" y="313.2" font-size="8.3" fill="#4a4d57" textLength="50.5" lengthAdjust="spacingAndGlyphs">RSI (14, close)</text>
<text x="68" y="313.2" font-size="8.3" fill="#7e57c2" textLength="19.6" lengthAdjust="spacingAndGlyphs">55.89</text>
<text x="92.6" y="313.2" font-size="7.4" fill="#33363f">ø</text>
<text x="103" y="313.2" font-size="7.4" fill="#33363f">ø</text>
<text x="909.8" y="60" font-size="9.1" fill="#3c3f48" textLength="40.6" lengthAdjust="spacingAndGlyphs">4,200.000</text>
<text x="909.8" y="98.5" font-size="9.1" fill="#3c3f48" textLength="40.6" lengthAdjust="spacingAndGlyphs">3,800.000</text>
<text x="909.8" y="141.6" font-size="9.1" fill="#3c3f48" textLength="40.6" lengthAdjust="spacingAndGlyphs">3,400.000</text>
<text x="909.8" y="164.7" font-size="9.1" fill="#3c3f48" textLength="40.6" lengthAdjust="spacingAndGlyphs">3,200.000</text>
<text x="909.8" y="189.3" font-size="9.1" fill="#3c3f48" textLength="40.6" lengthAdjust="spacingAndGlyphs">3,000.000</text>
<text x="909.8" y="216.3" font-size="9.1" fill="#3c3f48" textLength="40.6" lengthAdjust="spacingAndGlyphs">2,800.000</text>
<text x="909.8" y="244.3" font-size="9.1" fill="#3c3f48" textLength="40.6" lengthAdjust="spacingAndGlyphs">2,600.000</text>
<text x="909.8" y="269.3" font-size="9.1" fill="#3c3f48" textLength="40.6" lengthAdjust="spacingAndGlyphs">2,440.000</text>
<text x="909.8" y="295.2" font-size="9.1" fill="#3c3f48" textLength="40.6" lengthAdjust="spacingAndGlyphs">2,280.000</text>
<text x="909.8" y="312.3" font-size="9.1" fill="#3c3f48" textLength="22.6" lengthAdjust="spacingAndGlyphs">80.00</text>
<text x="909.8" y="347.7" font-size="9.1" fill="#3c3f48" textLength="22.6" lengthAdjust="spacingAndGlyphs">40.00</text>
<rect x="905.5" y="20.3" width="49" height="17.2" rx="2.5" fill="#fff" stroke="#eceef2" stroke-width="1"/>
<text x="911.5" y="32.2" font-size="8.6" fill="#22252c" textLength="14.5" lengthAdjust="spacingAndGlyphs">USD</text>
<rect x="863.8" y="63.2" width="39.4" height="12.3" fill="#dc4b3e"/>
<rect x="903.9" y="63.2" width="50.3" height="12.3" fill="#dc4b3e"/>
<text x="867.3" y="72.8" font-size="9.2" fill="#fff" textLength="32.5" lengthAdjust="spacingAndGlyphs">XAUUSD</text>
<text x="909.8" y="72.8" font-size="9.2" fill="#fff" textLength="40.6" lengthAdjust="spacingAndGlyphs">4,079.705</text>
<text x="41" y="371.2" font-size="8.8" fill="#3c3f48" text-anchor="middle">May</text>
<text x="124" y="371.2" font-size="8.8" fill="#3c3f48" text-anchor="middle">Jul</text>
<text x="168.2" y="371.2" font-size="8.8" fill="#3c3f48" text-anchor="middle">Aug</text>
<text x="210.5" y="371.2" font-size="8.8" fill="#3c3f48" text-anchor="middle">Sep</text>
<text x="250.5" y="371.2" font-size="8.8" fill="#3c3f48" text-anchor="middle">Oct</text>
<text x="295" y="371.2" font-size="8.8" fill="#3c3f48" text-anchor="middle">Nov</text>
<text x="335" y="371.2" font-size="8.8" fill="#3c3f48" text-anchor="middle">Dec</text>
<text x="456" y="371.2" font-size="8.8" fill="#3c3f48" text-anchor="middle">Mar</text>
<text x="497" y="371.2" font-size="8.8" fill="#3c3f48" text-anchor="middle">Apr</text>
<text x="537" y="371.2" font-size="8.8" fill="#3c3f48" text-anchor="middle">May</text>
<text x="580" y="371.2" font-size="8.8" fill="#3c3f48" text-anchor="middle">Jun</text>
<text x="620" y="371.2" font-size="8.8" fill="#3c3f48" text-anchor="middle">Jul</text>
<text x="664" y="371.2" font-size="8.8" fill="#3c3f48" text-anchor="middle">Aug</text>
<text x="705" y="371.2" font-size="8.8" fill="#3c3f48" text-anchor="middle">Sep</text>
<text x="747" y="371.2" font-size="8.8" fill="#3c3f48" text-anchor="middle">Oct</text>
<text x="791" y="371.2" font-size="8.8" fill="#3c3f48" text-anchor="middle">Nov</text>
<text x="874" y="371.2" font-size="8.8" fill="#3c3f48" text-anchor="middle">2026</text>
<text x="365.6" y="371.3" font-size="9.2" fill="#2e3038" font-weight="bold" textLength="21.2" lengthAdjust="spacingAndGlyphs">2025</text>
<path d="M8.2 393H16.2V402.5H12.3V396.9H8.2Z" fill="#14161b"/><circle cx="19" cy="394.9" r="1.9" fill="#14161b"/><path d="M22.3 393H28L24 402.5H18.4Z" fill="#14161b"/>
<text x="33.6" y="402.1" font-size="13.9" fill="#14161b" font-weight="bold" textLength="79.3" lengthAdjust="spacingAndGlyphs">TradingView</text>
</svg>
</body></html>
